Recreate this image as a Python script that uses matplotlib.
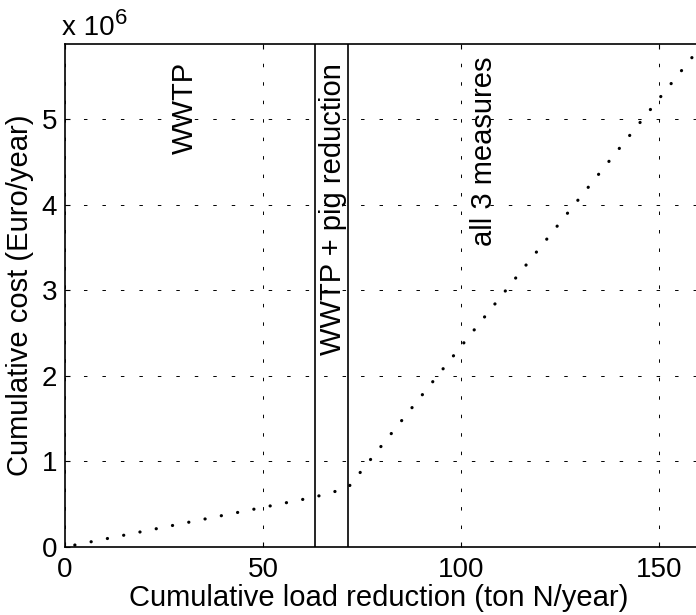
import matplotlib
matplotlib.use("Agg")
import matplotlib.pyplot as plt
from matplotlib.ticker import FuncFormatter

plt.rcParams['font.family'] = ['Liberation Sans', 'DejaVu Sans']
plt.rcParams['lines.scale_dashes'] = False

# Data
load_reduction = [0, 63.1, 71.4, 161]          # ton N/year
cumulative_cost = [0, 0.585e6, 0.69e6, 5.88e6]  # Euro/year
measure_bounds = [63.1, 71.4]
x_ticks = [0, 50, 100, 150]
y_ticks = [0, 1e6, 2e6, 3e6, 4e6, 5e6]
annotations = [("WWTP", 32.25, 4.596e6),
               ("WWTP + pig reduction", 69.6, 2.246e6),
               ("all 3 measures", 107.75, 3.524e6)]

W, H = 696, 615
fig = plt.figure(figsize=(W / 100, H / 100), dpi=100)
ax = fig.add_axes([65 / W, 68 / H, 637.6 / W, 503 / H])

ax.plot(load_reduction, cumulative_cost, color='black', lw=2.3,
        linestyle=(4.75, (0.1, 11.85)), solid_capstyle='round',
        dash_capstyle='round')
for xb in measure_bounds:
    ax.axvline(xb, color='black', lw=1.2)

ax.set_xlim(0, 161)
ax.set_ylim(0, 5.883e6)
ax.set_xticks(x_ticks)
ax.set_yticks(y_ticks)
ax.yaxis.set_major_formatter(FuncFormatter(lambda v, p: f"{v/1e6:g}"))
ax.grid(True, color='black', lw=0.7, linestyle=(0, (2.5, 10.8)))
ax.tick_params(direction='in', length=3.6, width=0.8, top=True, right=True,
               labelsize=20)
ax.tick_params(axis='x', pad=7)
ax.tick_params(axis='y', pad=5.5)
for s in ax.spines.values():
    s.set_linewidth(1.2)

for txt, xx, yy in annotations:
    ax.text(xx, yy, txt, rotation=90, rotation_mode='anchor', ha='left',
            va='baseline', fontsize=21)

ax.set_ylabel("Cumulative cost (Euro/year)", fontsize=21, labelpad=6)
fig.text(378.5 / W, (H - 606.5) / H, "Cumulative load reduction (ton N/year)",
         ha='center', va='baseline', fontsize=21)

fig.text(62 / W, (H - 35) / H, "x 10", ha='left', va='baseline', fontsize=20)
fig.text(115 / W, (H - 24) / H, "6", ha='left', va='baseline', fontsize=16)

fig.savefig("out.png", dpi=100)
